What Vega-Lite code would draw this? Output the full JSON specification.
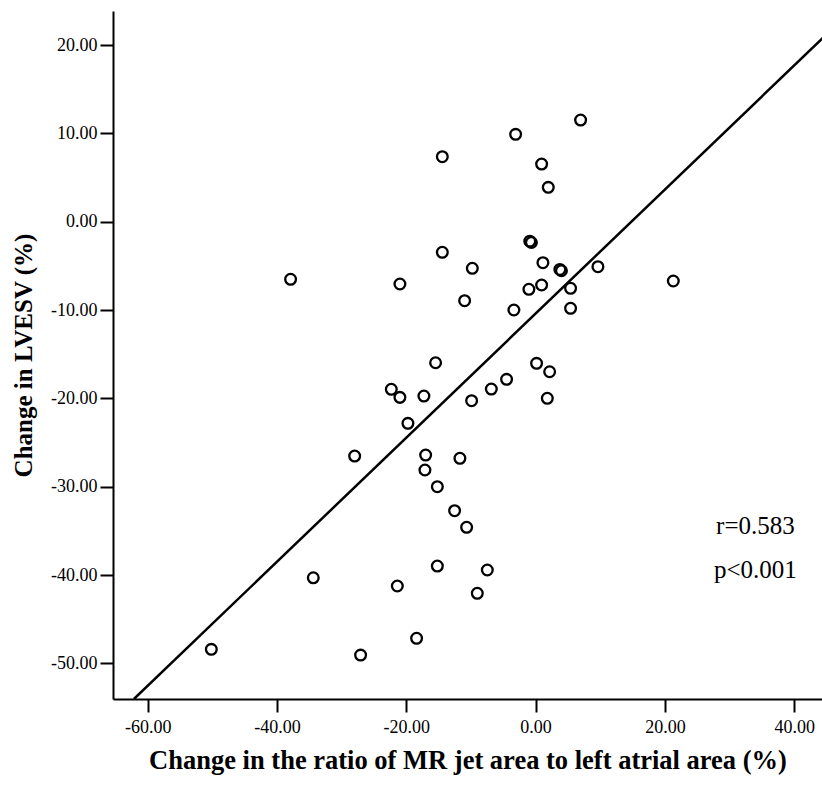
{
  "$schema": "https://vega.github.io/schema/vega-lite/v6.json",
  "width": 709,
  "height": 688,
  "autosize": "none",
  "padding": {"left": 113, "top": 11, "right": 0, "bottom": 88},
  "background": "white",
  "config": {"view": {"stroke": null}, "font": "Liberation Serif"},
  "datasets": {
    "pts": [
      {"x": 6.96, "y": 11.51}, {"x": -3.09, "y": 9.89}, {"x": -14.43, "y": 7.36},
      {"x": 0.93, "y": 6.53}, {"x": 1.96, "y": 3.89}, {"x": -0.9, "y": -2.2},
      {"x": -0.65, "y": -2.35}, {"x": -14.43, "y": -3.46}, {"x": 1.13, "y": -4.64},
      {"x": -9.79, "y": -5.27}, {"x": 3.75, "y": -5.4}, {"x": 4.0, "y": -5.55},
      {"x": 9.64, "y": -5.09}, {"x": -20.99, "y": -7.05}, {"x": -1.04, "y": -7.65},
      {"x": 0.93, "y": -7.16}, {"x": 5.41, "y": -7.54}, {"x": 21.3, "y": -6.71},
      {"x": -10.98, "y": -8.94}, {"x": -3.36, "y": -9.99}, {"x": 5.41, "y": -9.8},
      {"x": -37.9, "y": -6.52}, {"x": -15.47, "y": -15.96}, {"x": -22.32, "y": -18.97},
      {"x": -20.99, "y": -19.88}, {"x": -17.28, "y": -19.73}, {"x": 0.15, "y": -16.03},
      {"x": 2.17, "y": -16.98}, {"x": -4.49, "y": -17.84}, {"x": -6.85, "y": -18.94},
      {"x": -9.9, "y": -20.26}, {"x": 1.81, "y": -19.99}, {"x": -19.75, "y": -22.82},
      {"x": -27.99, "y": -26.52}, {"x": -17.01, "y": -26.41}, {"x": -17.12, "y": -28.1},
      {"x": -11.71, "y": -26.78}, {"x": -15.2, "y": -29.99}, {"x": -12.53, "y": -32.71},
      {"x": -10.67, "y": -34.59}, {"x": -34.39, "y": -40.3}, {"x": -21.39, "y": -41.23},
      {"x": -15.2, "y": -38.97}, {"x": -7.47, "y": -39.42}, {"x": -9.02, "y": -42.06},
      {"x": -50.16, "y": -48.4}, {"x": -27.07, "y": -49.05}, {"x": -18.41, "y": -47.15}
    ],
    "fit": [
      {"x": -62.13, "y": -54.02},
      {"x": 46.0, "y": 21.9}
    ],
    "notes": [
      {"x": 34.0, "y": -35.35, "label": "r=0.583"},
      {"x": 34.0, "y": -40.36, "label": "p<0.001"}
    ]
  },
  "layer": [
    {
      "data": {"name": "pts"},
      "mark": {"type": "point", "shape": "circle", "filled": false, "stroke": "black", "strokeWidth": 2.3, "size": 115, "opacity": 1},
      "encoding": {
        "x": {
          "field": "x", "type": "quantitative",
          "scale": {"domain": [-65.37, 44.3], "nice": false, "zero": false},
          "axis": {
            "title": "Change in the ratio of MR jet area to left atrial area (%)",
            "values": [-60, -40, -20, 0, 20, 40],
            "labelExpr": "replace(format(datum.value, '.2f'), '−', '-')",
            "grid": false,
            "domainColor": "black", "domainWidth": 2,
            "tickColor": "black", "tickWidth": 2, "tickSize": 13,
            "labelFont": "Liberation Serif", "labelFontSize": 18, "labelColor": "black", "labelPadding": 6,
            "titleFont": "Liberation Serif", "titleFontSize": 26.5, "titleFontWeight": "bold", "titleColor": "black", "titlePadding": 11
          }
        },
        "y": {
          "field": "y", "type": "quantitative",
          "scale": {"domain": [-54.02, 23.85], "nice": false, "zero": false},
          "axis": {
            "title": "Change in LVESV (%)",
            "values": [-50, -40, -30, -20, -10, 0, 10, 20],
            "labelExpr": "replace(format(datum.value, '.2f'), '−', '-')",
            "grid": false,
            "domainColor": "black", "domainWidth": 2,
            "tickColor": "black", "tickWidth": 2, "tickSize": 13,
            "labelFont": "Liberation Serif", "labelFontSize": 18, "labelColor": "black", "labelPadding": 3,
            "titleFont": "Liberation Serif", "titleFontSize": 25, "titleFontWeight": "bold", "titleColor": "black", "titlePadding": 14
          }
        }
      }
    },
    {
      "data": {"name": "fit"},
      "mark": {"type": "line", "color": "black", "strokeWidth": 2.5, "clip": true},
      "encoding": {
        "x": {"field": "x", "type": "quantitative"},
        "y": {"field": "y", "type": "quantitative"}
      }
    },
    {
      "mark": {"type": "rule", "color": "black", "strokeWidth": 2},
      "encoding": {"y": {"datum": 23.85}}
    },
    {
      "data": {"name": "notes"},
      "mark": {"type": "text", "font": "Liberation Serif", "fontSize": 25, "align": "center", "baseline": "alphabetic", "color": "black"},
      "encoding": {
        "x": {"field": "x", "type": "quantitative"},
        "y": {"field": "y", "type": "quantitative"},
        "text": {"field": "label"}
      }
    }
  ]
}
